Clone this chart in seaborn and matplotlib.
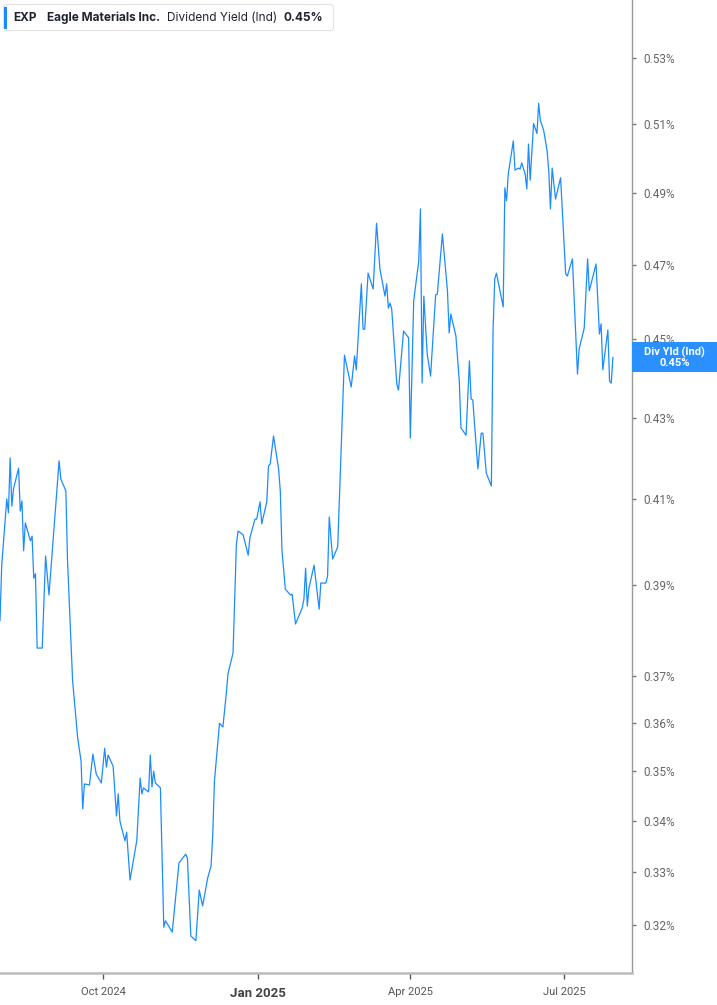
import matplotlib
matplotlib.use("Agg")
import matplotlib.pyplot as plt
import matplotlib.ticker as mticker
import matplotlib.transforms as mtransforms
from matplotlib.patches import Rectangle, FancyBboxPatch
import numpy as np
import pandas as pd
import seaborn as sns

# dividend yield (%)
dates = [
    "2024-08-01", "2024-08-02", "2024-08-05", "2024-08-06", "2024-08-07", "2024-08-08",
    "2024-08-09", "2024-08-12", "2024-08-13", "2024-08-14", "2024-08-15", "2024-08-16",
    "2024-08-19", "2024-08-20", "2024-08-21", "2024-08-22", "2024-08-23", "2024-08-26",
    "2024-08-28", "2024-08-30", "2024-09-05", "2024-09-06", "2024-09-09", "2024-09-10",
    "2024-09-12", "2024-09-13", "2024-09-16", "2024-09-18", "2024-09-19", "2024-09-20",
    "2024-09-23", "2024-09-25", "2024-09-27", "2024-09-30", "2024-10-02", "2024-10-03",
    "2024-10-04", "2024-10-07", "2024-10-09", "2024-10-10", "2024-10-11", "2024-10-14",
    "2024-10-15", "2024-10-17", "2024-10-21", "2024-10-23", "2024-10-24", "2024-10-25",
    "2024-10-28", "2024-10-29", "2024-10-30", "2024-10-31", "2024-11-01", "2024-11-04",
    "2024-11-06", "2024-11-07", "2024-11-11", "2024-11-15", "2024-11-19", "2024-11-20",
    "2024-11-22", "2024-11-25", "2024-11-27", "2024-11-29", "2024-12-02", "2024-12-04",
    "2024-12-05", "2024-12-06", "2024-12-09", "2024-12-11", "2024-12-13", "2024-12-14",
    "2024-12-17", "2024-12-19", "2024-12-20", "2024-12-23", "2024-12-26", "2024-12-27",
    "2024-12-30", "2024-12-31", "2025-01-02", "2025-01-03", "2025-01-06", "2025-01-07",
    "2025-01-08", "2025-01-10", "2025-01-13", "2025-01-14", "2025-01-15", "2025-01-17",
    "2025-01-20", "2025-01-21", "2025-01-23", "2025-01-27", "2025-01-28", "2025-01-29",
    "2025-01-30", "2025-01-31", "2025-02-03", "2025-02-06", "2025-02-07", "2025-02-10",
    "2025-02-11", "2025-02-12", "2025-02-14", "2025-02-17", "2025-02-21", "2025-02-25",
    "2025-02-27", "2025-02-28", "2025-03-03", "2025-03-04", "2025-03-05", "2025-03-07",
    "2025-03-10", "2025-03-11", "2025-03-12", "2025-03-14", "2025-03-17", "2025-03-18",
    "2025-03-19", "2025-03-20", "2025-03-21", "2025-03-24", "2025-03-25", "2025-03-28",
    "2025-03-31", "2025-04-01", "2025-04-03", "2025-04-06", "2025-04-07", "2025-04-08",
    "2025-04-09", "2025-04-11", "2025-04-13", "2025-04-16", "2025-04-17", "2025-04-20",
    "2025-04-23", "2025-04-24", "2025-04-25", "2025-04-28", "2025-04-30", "2025-05-01",
    "2025-05-04", "2025-05-06", "2025-05-07", "2025-05-08", "2025-05-11", "2025-05-13",
    "2025-05-14", "2025-05-16", "2025-05-19", "2025-05-20", "2025-05-21", "2025-05-22",
    "2025-05-26", "2025-05-27", "2025-05-28", "2025-05-29", "2025-06-01", "2025-06-02",
    "2025-06-04", "2025-06-05", "2025-06-06", "2025-06-08", "2025-06-09", "2025-06-10",
    "2025-06-11", "2025-06-13", "2025-06-15", "2025-06-16", "2025-06-17", "2025-06-19",
    "2025-06-21", "2025-06-22", "2025-06-23", "2025-06-24", "2025-06-26", "2025-06-29",
    "2025-07-02", "2025-07-03", "2025-07-06", "2025-07-09", "2025-07-10", "2025-07-13",
    "2025-07-15", "2025-07-16", "2025-07-20", "2025-07-22", "2025-07-23", "2025-07-24",
    "2025-07-27", "2025-07-28", "2025-07-29", "2025-07-30",
]
div_yield = [
    0.3820, 0.3944, 0.4101, 0.4068, 0.4200, 0.4084,
    0.4125, 0.4175, 0.4072, 0.4096, 0.3979, 0.4044,
    0.4002, 0.4013, 0.3916, 0.3926, 0.3760, 0.3760,
    0.3967, 0.3878, 0.4193, 0.4149, 0.4120, 0.3955,
    0.3775, 0.3689, 0.3568, 0.3521, 0.3424, 0.3474,
    0.3472, 0.3535, 0.3494, 0.3476, 0.3547, 0.3508,
    0.3533, 0.3510, 0.3410, 0.3454, 0.3400, 0.3361,
    0.3378, 0.3285, 0.3361, 0.3486, 0.3454, 0.3466,
    0.3458, 0.3533, 0.3468, 0.3500, 0.3476, 0.3466,
    0.3196, 0.3208, 0.3187, 0.3318, 0.3335, 0.3327,
    0.3180, 0.3171, 0.3266, 0.3236, 0.3289, 0.3312,
    0.3374, 0.3480, 0.3599, 0.3591, 0.3661, 0.3704,
    0.3749, 0.3995, 0.4025, 0.4016, 0.3969, 0.4009,
    0.4053, 0.4053, 0.4094, 0.4042, 0.4094, 0.4180,
    0.4185, 0.4254, 0.4173, 0.4120, 0.3979, 0.3891,
    0.3878, 0.3880, 0.3813, 0.3849, 0.3869, 0.3939,
    0.3853, 0.3894, 0.3946, 0.3846, 0.3905, 0.3905,
    0.3921, 0.4058, 0.3960, 0.3988, 0.4459, 0.4377,
    0.4457, 0.4421, 0.4648, 0.4527, 0.4527, 0.4677,
    0.4634, 0.4724, 0.4815, 0.4688, 0.4615, 0.4648,
    0.4583, 0.4596, 0.4580, 0.4385, 0.4369, 0.4522,
    0.4504, 0.4249, 0.4602, 0.4710, 0.4855, 0.4387,
    0.4615, 0.4462, 0.4405, 0.4618, 0.4620, 0.4785,
    0.4629, 0.4517, 0.4567, 0.4509, 0.4392, 0.4274,
    0.4256, 0.4444, 0.4347, 0.4344, 0.4173, 0.4261,
    0.4261, 0.4163, 0.4132, 0.4522, 0.4661, 0.4677,
    0.4586, 0.4915, 0.4878, 0.4955, 0.5051, 0.4966,
    0.4972, 0.4969, 0.4987, 0.4955, 0.4912, 0.5042,
    0.4937, 0.5103, 0.5073, 0.5163, 0.5112, 0.5082,
    0.5022, 0.4963, 0.4855, 0.4972, 0.4883, 0.4944,
    0.4675, 0.4669, 0.4716, 0.4410, 0.4475, 0.4530,
    0.4716, 0.4629, 0.4702, 0.4514, 0.4541, 0.4421,
    0.4525, 0.4392, 0.4387, 0.4454,
]

y_ticks = [0.32, 0.33, 0.34, 0.35, 0.36, 0.37, 0.39, 0.41, 0.43, 0.45, 0.47, 0.49, 0.51, 0.53]
x_ticks = ["2024-10-01", "2025-01-01", "2025-04-01", "2025-07-01"]
x_labels = ["Oct 2024", "Jan 2025", "Apr 2025", "Jul 2025"]

ticker = "EXP"
company = "Eagle Materials Inc."
metric = "Dividend Yield (Ind)"
last_label = "Div Yld (Ind)"

LINE = "#1a8cff"

df = pd.DataFrame({"date": pd.to_datetime(dates), "yield": div_yield})
last_val = df["yield"].iloc[-1]

sns.set_theme(style="white")
plt.rcParams["font.family"] = ["Roboto", "DejaVu Sans"]

fig = plt.figure(figsize=(7.17, 10.05), dpi=100)
ax = fig.add_axes([0, 32 / 1005, 632 / 717, 973 / 1005])

sns.lineplot(data=df, x="date", y="yield", ax=ax, color=LINE, linewidth=0.9)

ax.set_yscale("log")
ax.set_ylim(0.3112, 0.5483)
ax.set_xlim(pd.Timestamp("2024-08-01"), pd.Timestamp("2025-08-10 07:00"))

ax.yaxis.tick_right()
ax.yaxis.set_major_locator(mticker.FixedLocator(y_ticks))
ax.yaxis.set_major_formatter(mticker.FuncFormatter(lambda v, p: f"{v:.2f}%"))
ax.yaxis.set_minor_locator(mticker.NullLocator())
ax.tick_params(axis="y", which="major", right=True, left=False, length=3, width=1,
               color="#777777", labelsize=8.5, labelcolor="#666666", pad=5)

ax.set_xticks(pd.to_datetime(x_ticks))
ax.set_xticklabels(x_labels)
ax.xaxis.set_minor_locator(mticker.NullLocator())
ax.tick_params(axis="x", which="major", bottom=True, length=4, width=1,
               color="#555555", labelsize=8, labelcolor="#555555", pad=6)
for lab in ax.get_xticklabels():
    if lab.get_text().startswith("Jan"):
        lab.set_fontweight("bold")
        lab.set_fontsize(9.5)
        lab.set_color("#444444")

ax.set_xlabel("")
ax.set_ylabel("")
for side in ["top", "left"]:
    ax.spines[side].set_visible(False)
ax.spines["right"].set_color("#999999")
ax.spines["right"].set_linewidth(1.0)
ax.spines["bottom"].set_color("#bbbbbb")
ax.spines["bottom"].set_linewidth(1.8)

# last value tag at the right axis
trans = mtransforms.blended_transform_factory(ax.transAxes, ax.transData)
half = np.exp(15 / 1718)
ax.add_patch(Rectangle((1.0, last_val / half), 85 / 632, last_val * half - last_val / half,
                       transform=trans, facecolor="#2a8fff", edgecolor="none",
                       clip_on=False, zorder=5))
ax.text(1.0 + 42.5 / 632, last_val, f"{last_label}\n{last_val:.2f}%", transform=trans,
        ha="center", va="center", color="white", fontsize=8, fontweight="bold",
        linespacing=1.0, zorder=6, clip_on=False)

# header box
fig.add_artist(FancyBboxPatch((3.5 / 717, 1 - 30.5 / 1005), 330 / 717, 26 / 1005,
                              boxstyle="round,pad=0,rounding_size=0.004",
                              transform=fig.transFigure, facecolor="white",
                              edgecolor="#e2e2e2", linewidth=0.8))
fig.add_artist(Rectangle((4 / 717, 1 - 29 / 1005), 3 / 717, 22 / 1005,
                         transform=fig.transFigure, facecolor="#1a8cff", edgecolor="none"))
hy = 1 - 18 / 1005
hdr = dict(va="center", ha="left", fontsize=8.5, color="#1f2230", family=["Inter", "DejaVu Sans"])
fig.text(13 / 717, hy, ticker, fontweight="bold", **hdr)
fig.text(47 / 717, hy, company, fontweight="bold", **hdr)
fig.text(167 / 717, hy, metric, **hdr)
fig.text(284 / 717, hy, f"{last_val:.2f}%", fontweight="bold", **hdr)

fig.savefig("out.png", dpi=100)
